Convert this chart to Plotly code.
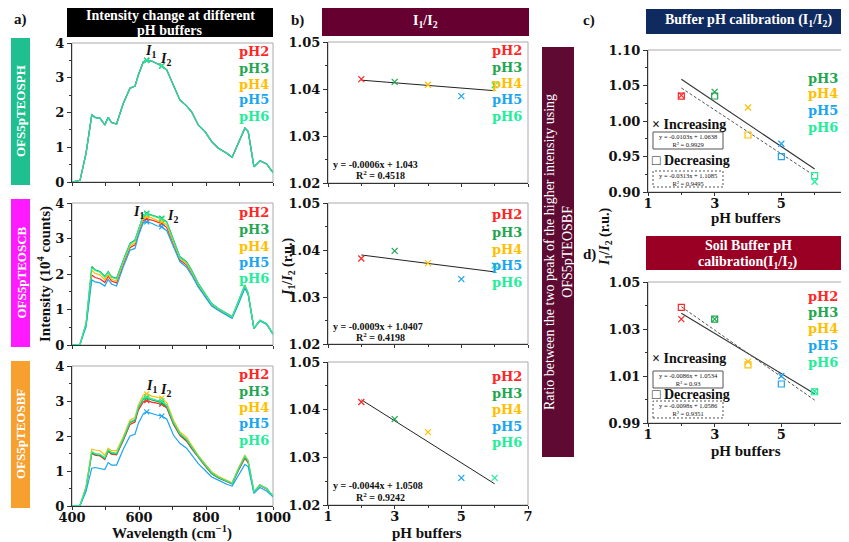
import numpy as np
import plotly.graph_objects as go

# page is rendered with an 8px body margin: figure is sized to fit the window exactly
W, H = 849, 542
OFF = 8
FW, FH = W - OFF, H - OFF

# ---------------- data ----------------
PH_NAMES = ["pH2", "pH3", "pH4", "pH5", "pH6"]
PH_COLORS = ["#ff2626", "#1fa650", "#ffbf00", "#1aa5f0", "#22ee99"]

WL = [400, 424, 442, 459, 469, 484, 498, 508, 518, 533, 553, 573, 588, 598, 613, 623, 638, 653,
      668, 683, 703, 722, 742, 757, 777, 797, 817, 837, 862, 878, 896, 916, 926, 943, 961, 981, 1000]
I1_WL, I2_WL = 623, 668

# OFS5pTEOSPH: the five pH curves coincide
SPEC_PH = [0, 0.05, 0.83, 1.93, 1.86, 1.83, 1.64, 1.86, 1.71, 1.67, 2.26, 2.70, 2.76, 3.08, 3.46, 3.50,
           3.48, 3.40, 3.34, 3.22, 2.79, 2.36, 2.19, 2.02, 1.64, 1.45, 1.16, 0.97, 0.83, 0.71, 1.11, 1.55,
           1.45, 0.44, 0.61, 0.52, 0.27]

# OFS5pTEOSCB
CB_PH2 = [0, 0.02, 0.56, 1.97, 1.90, 1.86, 1.76, 1.94, 1.80, 1.75, 2.27, 2.74, 2.82, 3.14, 3.51, 3.55, 3.52,
          3.46, 3.42, 3.31, 2.84, 2.40, 2.25, 2.03, 1.67, 1.40, 1.12, 0.99, 0.86, 0.77, 1.17, 1.64, 1.43,
          0.47, 0.69, 0.59, 0.31]
CB_PH3 = [0, 0.02, 0.61, 2.21, 2.12, 2.07, 1.93, 2.07, 1.93, 1.88, 2.39, 2.86, 2.96, 3.26, 3.66, 3.71, 3.66,
          3.60, 3.57, 3.47, 2.96, 2.49, 2.35, 2.11, 1.74, 1.46, 1.17, 1.03, 0.89, 0.80, 1.22, 1.69, 1.46,
          0.47, 0.70, 0.60, 0.31]
CB_PH4 = [0, 0.02, 0.58, 2.10, 2.02, 1.97, 1.84, 1.99, 1.85, 1.80, 2.32, 2.79, 2.88, 3.19, 3.58, 3.62, 3.58,
          3.51, 3.48, 3.38, 2.89, 2.44, 2.29, 2.06, 1.70, 1.42, 1.14, 1.01, 0.87, 0.78, 1.19, 1.66, 1.44,
          0.47, 0.69, 0.60, 0.31]
CB_PH5 = [0, 0.02, 0.52, 1.83, 1.78, 1.75, 1.66, 1.85, 1.72, 1.66, 2.20, 2.67, 2.72, 3.07, 3.45, 3.47, 3.43,
          3.36, 3.33, 3.22, 2.77, 2.35, 2.19, 1.97, 1.63, 1.36, 1.10, 0.97, 0.85, 0.75, 1.13, 1.60, 1.41,
          0.46, 0.68, 0.58, 0.30]
CB_PH6 = [0, 0.02, 0.60, 2.18, 2.10, 2.05, 1.91, 2.05, 1.91, 1.86, 2.37, 2.84, 2.94, 3.24, 3.64, 3.69, 3.64,
          3.58, 3.55, 3.45, 2.94, 2.47, 2.33, 2.09, 1.72, 1.45, 1.16, 1.02, 0.88, 0.79, 1.21, 1.68, 1.45,
          0.47, 0.70, 0.60, 0.31]

# OFS5pTEOSBF
BF_PH2 = [0, 0.02, 0.51, 1.50, 1.45, 1.43, 1.33, 1.56, 1.48, 1.46, 1.87, 2.33, 2.40, 2.74, 2.98, 3.01, 2.97,
          2.93, 2.91, 2.80, 2.33, 2.02, 1.85, 1.64, 1.38, 1.15, 0.92, 0.80, 0.70, 0.63, 1.00, 1.36, 1.23,
          0.40, 0.59, 0.49, 0.27]
BF_PH3 = [0, 0.02, 0.52, 1.52, 1.47, 1.45, 1.35, 1.58, 1.50, 1.48, 1.90, 2.38, 2.45, 2.80, 3.05, 3.08, 3.03,
          2.98, 2.95, 2.84, 2.36, 2.05, 1.88, 1.67, 1.40, 1.17, 0.93, 0.81, 0.71, 0.64, 1.02, 1.40, 1.26,
          0.41, 0.60, 0.50, 0.28]
BF_PH4 = [0, 0.02, 0.55, 1.62, 1.60, 1.58, 1.45, 1.65, 1.58, 1.58, 1.98, 2.45, 2.53, 2.89, 3.17, 3.20, 3.14,
          3.10, 3.08, 2.95, 2.45, 2.12, 1.96, 1.74, 1.45, 1.21, 0.98, 0.85, 0.74, 0.66, 1.07, 1.45, 1.31,
          0.41, 0.60, 0.50, 0.28]
BF_PH5 = [0, 0.01, 0.42, 1.08, 1.10, 1.07, 1.04, 1.24, 1.17, 1.17, 1.62, 2.00, 2.05, 2.36, 2.64, 2.69, 2.64,
          2.60, 2.57, 2.48, 2.02, 1.79, 1.65, 1.45, 1.21, 1.02, 0.83, 0.74, 0.62, 0.57, 0.88, 1.19, 1.12,
          0.36, 0.53, 0.43, 0.26]
BF_PH6 = [0, 0.02, 0.53, 1.55, 1.50, 1.48, 1.38, 1.60, 1.53, 1.51, 1.93, 2.40, 2.48, 2.83, 3.09, 3.12, 3.07,
          3.02, 3.00, 2.88, 2.39, 2.07, 1.91, 1.69, 1.42, 1.18, 0.95, 0.82, 0.72, 0.65, 1.04, 1.42, 1.28,
          0.41, 0.60, 0.50, 0.28]

PH_VALUES = [2, 3, 4, 5, 6]
RATIO_PH = [1.0421, 1.0415, 1.0409, 1.0385, 1.0408]
RATIO_CB = [1.0382, 1.0398, 1.0372, 1.0338, 1.0367]
RATIO_BF = [1.0416, 1.0380, 1.0353, 1.0257, 1.0257]
EQ_B = [("y = -0.0006x + 1.043", "R² = 0.4518"),
        ("y = -0.0009x + 1.0407", "R² = 0.4198"),
        ("y = -0.0044x + 1.0508", "R² = 0.9242")]

CAL_BUF_INC = [1.036, 1.041, 1.019, 0.968, 0.9145]
CAL_BUF_DEC = [1.035, 1.0352, 0.9803, 0.9497, 0.923]
CAL_SOIL_INC = [1.0342, 1.0342, 1.0161, 1.0100, 1.0035]
CAL_SOIL_DEC = [1.0392, 1.0342, 1.0147, 1.0066, 1.0033]
EQ_C = [("y = -0.0103x + 1.0638", "R² = 0.9929"), ("y = -0.0313x + 1.1085", "R² = 0.9495")]
EQ_D = [("y = -0.0086x + 1.0534", "R² = 0.93"), ("y = -0.0098x + 1.0586", "R² = 0.9351")]

# ---------------- helpers ----------------
def X(px):
    return (px - OFF) / FW

def Y(py):
    return 1 - (py - OFF) / FH

SERIF = "Liberation Serif"
DV = "DejaVu Serif"

fig = go.Figure()
layout = dict(width=FW, height=FH, margin=dict(l=0, r=0, t=0, b=0, pad=0, autoexpand=False),
              paper_bgcolor="white", plot_bgcolor="white", showlegend=False)
annotations, shapes = [], []

# (x0, x1, ytop, ybottom) window-pixel boxes
BOXES = {
    1: (72, 273, 43, 182), 2: (72, 273, 203, 345), 3: (72, 273, 366, 506),
    4: (328, 528, 42, 183), 5: (328, 528, 203, 344), 6: (328, 528, 362, 505),
    7: (648, 849, 50, 192), 8: (648, 849, 282, 423),
}
TICKFONT = dict(family=DV, size=13, color="#111", weight="bold")
MINOR = dict(ticklen=2, ticks="outside", tickcolor="#333")

def axes(n, xr, yr, xkw, ykw):
    x0, x1, yt, yb = BOXES[n]
    common = dict(showgrid=False, zeroline=False, showline=True, linecolor="#333", linewidth=1.3,
                  ticks="outside", tickcolor="#333", tickfont=TICKFONT, fixedrange=True,
                  automargin=False)
    xa = dict(domain=[X(x0), X(x1)], anchor=f"y{n}", range=xr, ticklen=3, ticklabelstandoff=-4, **common)
    ya = dict(domain=[Y(yb), Y(yt)], anchor=f"x{n}", range=yr, ticklen=4, **common)
    xa.update(xkw)
    ya.update(ykw)
    sfx = "" if n == 1 else str(n)
    layout["xaxis" + sfx] = xa
    layout["yaxis" + sfx] = ya
    shapes.append(dict(type="rect", xref="paper", yref="paper", x0=X(x0), x1=X(x1),
                       y0=Y(yb), y1=Y(yt), line=dict(color="#aaa", width=1), layer="below"))

def ref(n):
    return ("x" if n == 1 else f"x{n}"), ("y" if n == 1 else f"y{n}")

def ann(px, py, text, size=12, color="#111", family=SERIF, xanchor="center", angle=0, **kw):
    d = dict(xref="paper", yref="paper", x=X(px), y=Y(py), text=text, showarrow=False,
             font=dict(family=family, size=size, color=color), xanchor=xanchor, yanchor="middle",
             textangle=angle)
    d.update(kw)
    annotations.append(d)

def rect(x0, y0, x1, y1, fill, line=None, dash=None):
    shapes.append(dict(type="rect", xref="paper", yref="paper", x0=X(x0), x1=X(x1), y0=Y(y1), y1=Y(y0),
                       fillcolor=fill, line=dict(width=0 if line is None else 1, color=line or fill,
                                                 dash=dash or "solid"), layer="above"))

def mk(symbol, col, size=6):
    return dict(symbol=symbol, size=size, color=col, line=dict(color=col, width=1.2))

# ---------------- panel a: spectra ----------------
SPECTRA = {1: [SPEC_PH] * 5,
           2: [CB_PH2, CB_PH3, CB_PH4, CB_PH5, CB_PH6],
           3: [BF_PH2, BF_PH3, BF_PH4, BF_PH5, BF_PH6]}
i1, i2 = WL.index(I1_WL), WL.index(I2_WL)
for n in (1, 2, 3):
    xr, yr = ref(n)
    for name, col, ys in zip(PH_NAMES, PH_COLORS, SPECTRA[n]):
        op = 0.7 if (n == 1 and name == "pH6") else 1.0
        fig.add_trace(go.Scatter(x=WL, y=ys, mode="lines", line=dict(color=col, width=1.2), opacity=op,
                                 xaxis=xr, yaxis=yr, name=name))
        fig.add_trace(go.Scatter(x=[WL[i1], WL[i2]], y=[ys[i1], ys[i2]], mode="markers",
                                 marker=mk("x-thin", col, 5), xaxis=xr, yaxis=yr))
    axes(n, [400, 1000], [0, 4],
         dict(tickvals=[400, 500, 600, 700, 800, 900, 1000],
              ticktext=["400", "", "600", "", "800", "", "1000"], showticklabels=(n == 3)),
         dict(dtick=1, tick0=0, minor=dict(dtick=0.5, **MINOR)))

# ---------------- panel b: ratios ----------------
for n, vals in zip((4, 5, 6), (RATIO_PH, RATIO_CB, RATIO_BF)):
    xr, yr = ref(n)
    k, b = np.polyfit(PH_VALUES, vals, 1)
    xs = np.array([PH_VALUES[0], PH_VALUES[-1]])
    fig.add_trace(go.Scatter(x=xs, y=k * xs + b, mode="lines", line=dict(color="#222", width=1),
                             xaxis=xr, yaxis=yr))
    for xv, yv, col in zip(PH_VALUES, vals, PH_COLORS):
        fig.add_trace(go.Scatter(x=[xv], y=[yv], mode="markers", marker=mk("x-thin", col),
                                 xaxis=xr, yaxis=yr))
    axes(n, [1, 7], [1.02, 1.05],
         dict(dtick=2, tick0=1, showticklabels=(n == 6), minor=dict(dtick=1, **MINOR)),
         dict(dtick=0.01, tick0=1.02, tickformat=".2f", minor=dict(dtick=0.005, **MINOR)))

# ---------------- panels c, d: calibration ----------------
for n, inc, dec, yrng, yk in ((7, CAL_BUF_INC, CAL_BUF_DEC, [0.90, 1.10],
                               dict(dtick=0.05, tick0=0.9, tickformat=".2f", minor=dict(dtick=0.025, **MINOR))),
                              (8, CAL_SOIL_INC, CAL_SOIL_DEC, [0.99, 1.05],
                               dict(dtick=0.02, tick0=0.99, tickformat=".2f", minor=dict(dtick=0.01, **MINOR)))):
    xr, yr = ref(n)
    xs = np.array([PH_VALUES[0], PH_VALUES[-1]])
    k, b = np.polyfit(PH_VALUES, inc, 1)
    fig.add_trace(go.Scatter(x=xs, y=k * xs + b, mode="lines", line=dict(color="#333", width=1.1),
                             xaxis=xr, yaxis=yr))
    k, b = np.polyfit(PH_VALUES, dec, 1)
    fig.add_trace(go.Scatter(x=xs, y=k * xs + b, mode="lines",
                             line=dict(color="#555", width=1, dash="3px,2px"), xaxis=xr, yaxis=yr))
    for xv, yi, yd, col in zip(PH_VALUES, inc, dec, PH_COLORS):
        fig.add_trace(go.Scatter(x=[xv], y=[yd], mode="markers", marker=mk("square-open", col),
                                 xaxis=xr, yaxis=yr))
        fig.add_trace(go.Scatter(x=[xv], y=[yi], mode="markers", marker=mk("x-thin", col),
                                 xaxis=xr, yaxis=yr))
    axes(n, [1, 7 + 6 / 201], yrng, dict(dtick=2, tick0=1, minor=dict(dtick=1, **MINOR)), yk)

# ---------------- legends (coloured labels) ----------------
LEG_POS = {1: (271, [52, 68, 84, 100, 117]), 2: (271, [213, 229, 246, 262, 278]),
           3: (271, [374, 391, 407, 423, 440]), 4: (524, [51, 67, 83, 100, 116]),
           5: (524, [215, 232, 249, 265, 282]), 6: (524, [376, 393, 409, 426, 442]),
           8: (840, [296, 312, 328, 345, 362])}
for n, (xr_, ys) in LEG_POS.items():
    for name, col, yy in zip(PH_NAMES, PH_COLORS, ys):
        ann(xr_, yy, f"<b>{name}</b>", size=13, color=col, family=DV, xanchor="right")
for name, col, yy in zip(PH_NAMES[1:], PH_COLORS[1:], [78, 94, 110, 127]):
    ann(840, yy, f"<b>{name}</b>", size=13, color=col, family=DV, xanchor="right")

# I1 / I2 labels
for (ax1, ay1), (ax2, ay2) in (((150, 52), (165, 59)), ((138, 212), (172, 217)), ((151, 386), (165, 390))):
    ann(ax1, ay1, "<b><i>I</i><sub>1</sub></b>", size=14)
    ann(ax2, ay2, "<b><i>I</i><sub>2</sub></b>", size=14)

# regression equations panel b
for (eq, r2), (ey, ry) in zip(EQ_B, ((164, 175), (326, 337), (485, 497))):
    ann(331, ey, f"<b>{eq}</b>", size=10, xanchor="left")
    ann(380, ry, f"<b>{r2.replace('²', '<sup>2</sup>')}</b>", size=10)

# calibration annotations c / d
for (iy, by0, by1, dy, dby0, dby1), eqs in (((125, 132, 149, 161, 171, 187), EQ_C),
                                          ((358, 371, 388, 394, 401, 418), EQ_D)):
    ann(650, iy, "<b>× Increasing</b>", size=14, xanchor="left")
    ann(650, dy, "<b>□ Decreasing</b>", size=14, xanchor="left")
    rect(653, by0, 723, by1, "rgba(0,0,0,0)", line="#555")
    rect(653, dby0, 723, dby1, "rgba(0,0,0,0)", line="#555", dash="2px,2px")
    ann(688, (by0 + by1) / 2, eqs[0][0] + "<br>" + eqs[0][1], size=6.5)
    ann(688, (dby0 + dby1) / 2, eqs[1][0] + "<br>" + eqs[1][1], size=6.5)

# ---------------- headers, side labels ----------------
rect(67, 8, 273, 37, "#000000")
ann(170, 15, "<b>Intensity change at different</b>", size=14, color="white")
ann(170, 31, "<b>pH buffers</b>", size=14, color="white")
rect(322, 8, 529, 36, "#650030")
ann(425, 22, "<b>I<sub>1</sub>/I<sub>2</sub></b>", size=14, color="white")
rect(646, 9, 849, 34, "#0f2a5e")
ann(748, 21, "<b>Buffer pH calibration (I<sub>1</sub>/I<sub>2</sub>)</b>", size=14, color="white")
rect(646, 236, 849, 270, "#990024")
ann(748, 245, "<b>Soil Buffer pH</b>", size=14, color="white")
ann(748, 262, "<b>calibration(I<sub>1</sub>/I<sub>2</sub>)</b>", size=14, color="white")

ann(20, 19, "<b>a)</b>", size=15)
ann(297, 21, "<b>b)</b>", size=15)
ann(589, 21, "<b>c)</b>", size=15)
ann(589, 254, "<b>d)</b>", size=15)

rect(542, 47, 574, 457, "#5e0a32")
ann(558, 252, "Ratio between the two peak of the higher intensity using<br>OFS5pTEOSBF", size=14,
    color="white", angle=-90)

for (c, y0, y1, lab) in (("#1fbf8f", 38, 185, "OFS5pTEOSPH"), ("#ff1aff", 199, 347, "OFS5pTEOSCB"),
                         ("#f7a030", 361, 508, "OFS5pTEOSBF")):
    rect(11, y0, 30, y1, c)
    ann(20.5, (y0 + y1) / 2, f"<b>{lab}</b>", size=13, color="white", angle=-90)

ann(44, 274, "<b>Intensity (10<sup>4</sup> counts)</b>", size=15, angle=-90)
ann(172, 532, "<b>Wavelength (cm<sup>−1</sup>)</b>", size=15)
ann(288, 267, "<b><i>I</i><sub>1</sub>/<i>I</i><sub>2</sub> (r.u.)</b>", size=14, angle=-90)
ann(427, 533, "<b>pH buffers</b>", size=15)
ann(605, 237, "<b><i>I</i><sub>1</sub>/<i>I</i><sub>2</sub> (r.u.)</b>", size=14, angle=-90)
ann(746, 218, "<b>pH buffers</b>", size=15)
ann(746, 451, "<b>pH buffers</b>", size=15)

layout["annotations"] = annotations
layout["shapes"] = shapes
fig.update_layout(**layout)
fig.write_html("out.html")
